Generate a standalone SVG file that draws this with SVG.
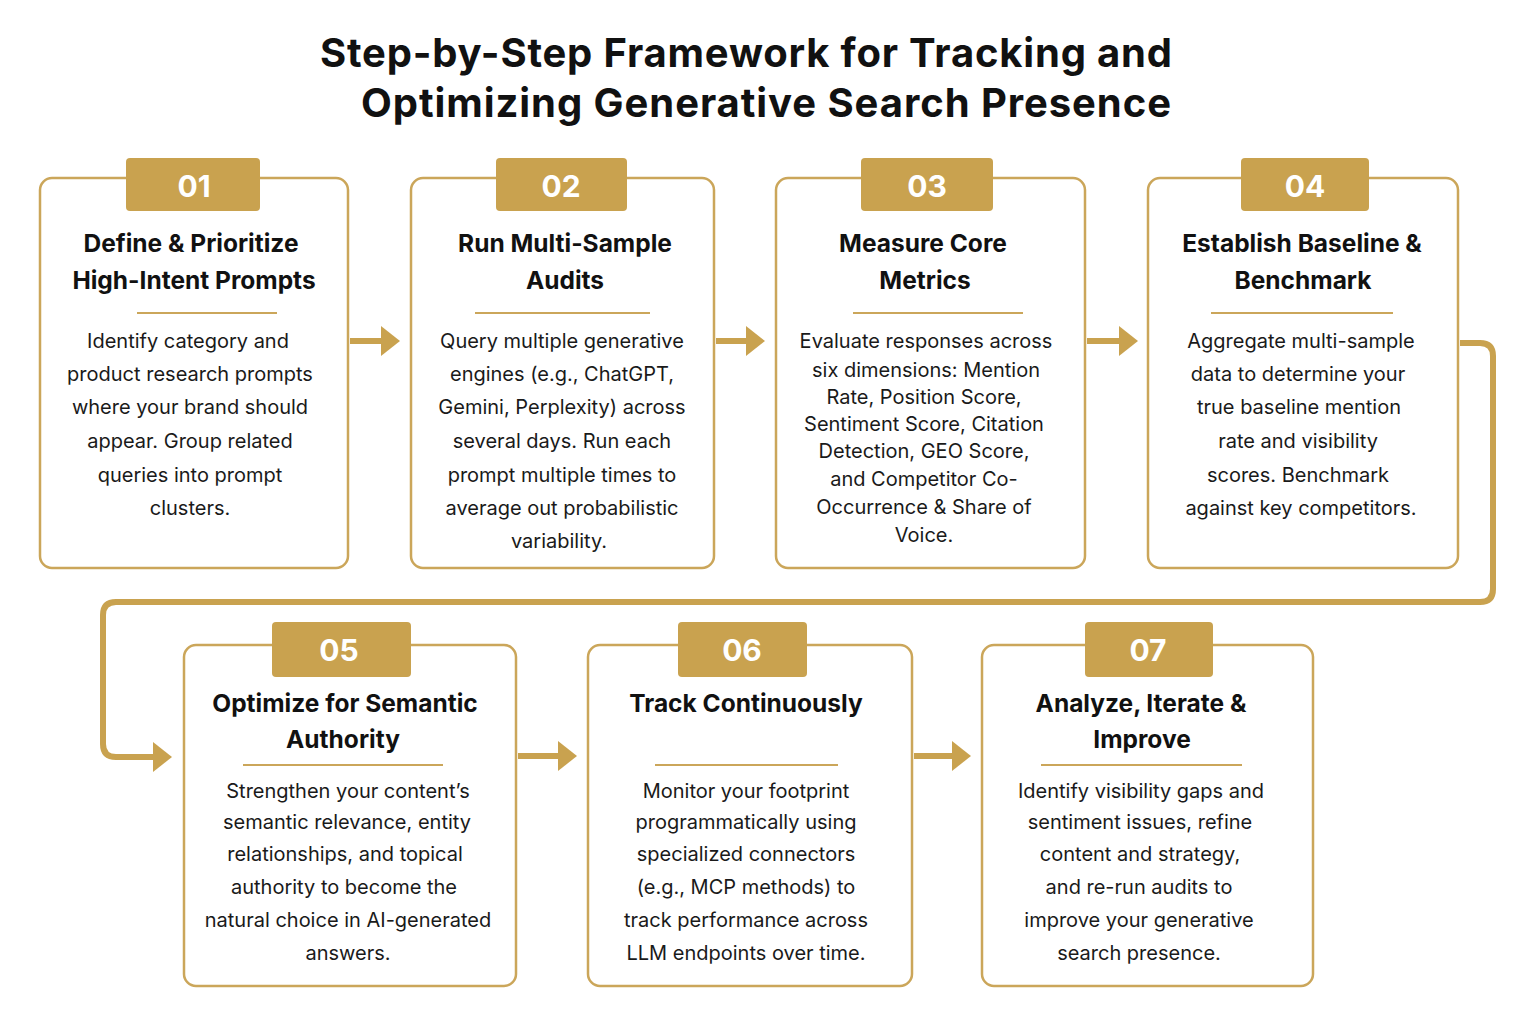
<svg xmlns="http://www.w3.org/2000/svg" width="1535" height="1023" viewBox="0 0 1535 1023">
<defs>
<marker id="ah" markerWidth="20" markerHeight="32" refX="2" refY="16" orient="auto" markerUnits="userSpaceOnUse"><path d="M0,1 L19,16 L0,31 Z" fill="#C9A24F"/></marker>
<style>
.box{fill:#fff;stroke:#CBA65A;stroke-width:2.5}
.badge{fill:#C9A24F}
.num{font-family:Inter,"Open Sans",sans-serif;font-weight:700;font-size:30px;fill:#fff;text-anchor:middle}
.t{font-family:Inter,"Open Sans",sans-serif;font-weight:700;font-size:24.5px;fill:#111;text-anchor:middle}
.b{font-family:Inter,"Open Sans",sans-serif;font-size:20px;fill:#1a1a1a;text-anchor:middle}
.div{stroke:#CBA65A;stroke-width:2}
.c{fill:none;stroke:#C9A24F;stroke-width:6}
.h1{font-family:Inter,"Open Sans",sans-serif;font-weight:700;font-size:40px;fill:#111;text-anchor:middle}
</style>
</defs>
<rect width="1535" height="1023" fill="#fff"/>
<text class="h1" x="746" y="67" textLength="852">Step-by-Step Framework for Tracking and</text>
<text class="h1" x="766" y="117" textLength="810">Optimizing Generative Search Presence</text>

<g id="connectors">
<line class="c" x1="350" y1="341" x2="383" y2="341" marker-end="url(#ah)"/>
<line class="c" x1="716" y1="341" x2="748" y2="341" marker-end="url(#ah)"/>
<line class="c" x1="1087" y1="341" x2="1121" y2="341" marker-end="url(#ah)"/>
<path class="c" d="M1460,343 H1480 Q1493,343 1493,356 V589 Q1493,602 1480,602 H116 Q103,602 103,615 V744 Q103,757 116,757 H155" marker-end="url(#ah)"/>
<line class="c" x1="518" y1="756" x2="560" y2="756" marker-end="url(#ah)"/>
<line class="c" x1="914" y1="756" x2="954" y2="756" marker-end="url(#ah)"/>
</g>

<g id="n1">
<rect class="box" x="40" y="178" width="308" height="390" rx="12"/>
<rect class="badge" x="126" y="158" width="134" height="53" rx="4"/>
<text class="num" x="194" y="197">01</text>
<text class="t" x="191" y="252">Define &amp; Prioritize</text>
<text class="t" x="194" y="289">High-Intent Prompts</text>
<line class="div" x1="137" y1="313" x2="277" y2="313"/>
<text class="b" x="188" y="348">Identify category and</text>
<text class="b" x="190" y="381">product research prompts</text>
<text class="b" x="190" y="414">where your brand should</text>
<text class="b" x="190" y="448">appear. Group related</text>
<text class="b" x="190" y="482">queries into prompt</text>
<text class="b" x="190" y="515">clusters.</text>
</g>

<g id="n2">
<rect class="box" x="411" y="178" width="303" height="390" rx="12"/>
<rect class="badge" x="496" y="158" width="131" height="53" rx="4"/>
<text class="num" x="561" y="197">02</text>
<text class="t" x="565" y="252">Run Multi-Sample</text>
<text class="t" x="565" y="289">Audits</text>
<line class="div" x1="475" y1="313" x2="650" y2="313"/>
<text class="b" x="562" y="348">Query multiple generative</text>
<text class="b" x="562" y="381">engines (e.g., ChatGPT,</text>
<text class="b" x="562" y="414">Gemini, Perplexity) across</text>
<text class="b" x="562" y="448">several days. Run each</text>
<text class="b" x="562" y="482">prompt multiple times to</text>
<text class="b" x="562" y="515">average out probabilistic</text>
<text class="b" x="559" y="548">variability.</text>
</g>

<g id="n3">
<rect class="box" x="776" y="178" width="309" height="390" rx="12"/>
<rect class="badge" x="861" y="158" width="132" height="53" rx="4"/>
<text class="num" x="927" y="197">03</text>
<text class="t" x="923" y="252">Measure Core</text>
<text class="t" x="925" y="289">Metrics</text>
<line class="div" x1="853" y1="313" x2="1023" y2="313"/>
<text class="b" x="926" y="348">Evaluate responses across</text>
<text class="b" x="926" y="377">six dimensions: Mention</text>
<text class="b" x="924" y="404">Rate, Position Score,</text>
<text class="b" x="924" y="431">Sentiment Score, Citation</text>
<text class="b" x="924" y="458">Detection, GEO Score,</text>
<text class="b" x="924" y="486">and Competitor Co-</text>
<text class="b" x="924" y="514">Occurrence &amp; Share of</text>
<text class="b" x="924" y="542">Voice.</text>
</g>

<g id="n4">
<rect class="box" x="1148" y="178" width="310" height="390" rx="12"/>
<rect class="badge" x="1241" y="158" width="128" height="53" rx="4"/>
<text class="num" x="1305" y="197">04</text>
<text class="t" x="1302" y="252">Establish Baseline &amp;</text>
<text class="t" x="1303" y="289">Benchmark</text>
<line class="div" x1="1211" y1="313" x2="1393" y2="313"/>
<text class="b" x="1301" y="348">Aggregate multi-sample</text>
<text class="b" x="1298" y="381">data to determine your</text>
<text class="b" x="1299" y="414">true baseline mention</text>
<text class="b" x="1298" y="448">rate and visibility</text>
<text class="b" x="1298" y="482">scores. Benchmark</text>
<text class="b" x="1301" y="515">against key competitors.</text>
</g>

<g id="n5">
<rect class="box" x="184" y="645" width="332" height="341" rx="12"/>
<rect class="badge" x="272" y="622" width="139" height="55" rx="4"/>
<text class="num" x="339" y="661">05</text>
<text class="t" x="345" y="712">Optimize for Semantic</text>
<text class="t" x="343" y="748">Authority</text>
<line class="div" x1="243" y1="765" x2="443" y2="765"/>
<text class="b" x="348" y="798">Strengthen your content’s</text>
<text class="b" x="347" y="829">semantic relevance, entity</text>
<text class="b" x="345" y="861">relationships, and topical</text>
<text class="b" x="344" y="894">authority to become the</text>
<text class="b" x="348" y="927">natural choice in AI-generated</text>
<text class="b" x="348" y="960">answers.</text>
</g>

<g id="n6">
<rect class="box" x="588" y="645" width="324" height="341" rx="12"/>
<rect class="badge" x="678" y="622" width="129" height="55" rx="4"/>
<text class="num" x="742" y="661">06</text>
<text class="t" x="746" y="712">Track Continuously</text>
<line class="div" x1="655" y1="765" x2="838" y2="765"/>
<text class="b" x="746" y="798">Monitor your footprint</text>
<text class="b" x="746" y="829">programmatically using</text>
<text class="b" x="746" y="861">specialized connectors</text>
<text class="b" x="746" y="894">(e.g., MCP methods) to</text>
<text class="b" x="746" y="927">track performance across</text>
<text class="b" x="746" y="960">LLM endpoints over time.</text>
</g>

<g id="n7">
<rect class="box" x="982" y="645" width="331" height="341" rx="12"/>
<rect class="badge" x="1085" y="622" width="128" height="55" rx="4"/>
<text class="num" x="1148" y="661">07</text>
<text class="t" x="1141" y="712">Analyze, Iterate &amp;</text>
<text class="t" x="1142" y="748">Improve</text>
<line class="div" x1="1041" y1="765" x2="1242" y2="765"/>
<text class="b" x="1141" y="798">Identify visibility gaps and</text>
<text class="b" x="1140" y="829">sentiment issues, refine</text>
<text class="b" x="1140" y="861">content and strategy,</text>
<text class="b" x="1139" y="894">and re-run audits to</text>
<text class="b" x="1139" y="927">improve your generative</text>
<text class="b" x="1139" y="960">search presence.</text>
</g>
</svg>
